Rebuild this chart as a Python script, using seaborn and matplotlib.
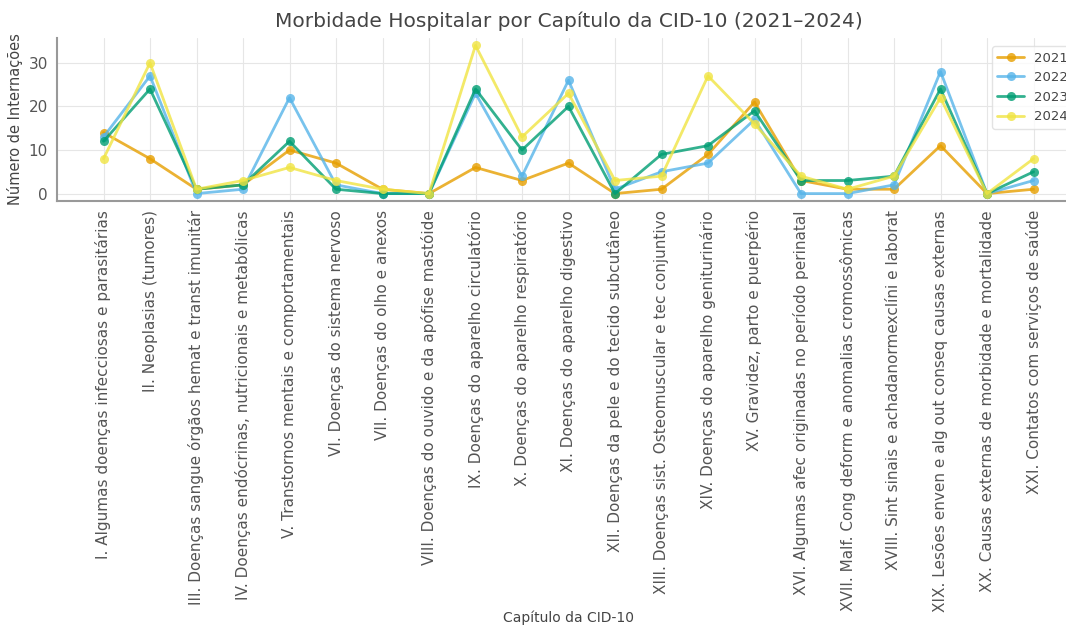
import pandas as pd
import matplotlib
matplotlib.use("Agg")
import matplotlib.pyplot as plt
import seaborn as sns

# Capítulos da CID-10 (eixo x)
capitulos = [
    "I. Algumas doenças infecciosas e parasitárias",
    "II. Neoplasias (tumores)",
    "III. Doenças sangue órgãos hemat e transt imunitár",
    "IV. Doenças endócrinas, nutricionais e metabólicas",
    "V. Transtornos mentais e comportamentais",
    "VI. Doenças do sistema nervoso",
    "VII. Doenças do olho e anexos",
    "VIII. Doenças do ouvido e da apófise mastóide",
    "IX. Doenças do aparelho circulatório",
    "X. Doenças do aparelho respiratório",
    "XI. Doenças do aparelho digestivo",
    "XII. Doenças da pele e do tecido subcutâneo",
    "XIII. Doenças sist. Osteomuscular e tec conjuntivo",
    "XIV. Doenças do aparelho geniturinário",
    "XV. Gravidez, parto e puerpério",
    "XVI. Algumas afec originadas no período perinatal",
    "XVII. Malf. Cong deform e anomalias cromossômicas",
    "XVIII. Sint sinais e achadanormexclíni e laborat",
    "XIX. Lesões enven e alg out conseq causas externas",
    "XX. Causas externas de morbidade e mortalidade",
    "XXI. Contatos com serviços de saúde",
]

# Internações por ano
v2021 = [14, 8, 1, 2, 10, 7, 1, 0, 6, 3, 7, 0, 1, 9, 21, 3, 1, 1, 11, 0, 1]
v2022 = [13, 27, 0, 1, 22, 2, 0, 0, 23, 4, 26, 1, 5, 7, 17, 0, 0, 2, 28, 0, 3]
v2023 = [12, 24, 1, 2, 12, 1, 0, 0, 24, 10, 20, 0, 9, 11, 19, 3, 3, 4, 24, 0, 5]
v2024 = [8, 30, 1, 3, 6, 3, 1, 0, 34, 13, 23, 3, 4, 27, 16, 4, 1, 4, 22, 0, 8]

anos = ["2021", "2022", "2023", "2024"]
cores = ["#E69F00", "#56B4E9", "#009E73", "#F0E442"]

df = pd.DataFrame({"Capítulo": capitulos, "2021": v2021, "2022": v2022,
                   "2023": v2023, "2024": v2024})
df_long = df.melt(id_vars="Capítulo", var_name="Ano", value_name="Internações")

sns.set_theme(style="whitegrid")
plt.rcParams["font.family"] = ["DejaVu Sans"]

fig = plt.figure(figsize=(10.66, 6.26), dpi=100)
# eixo mais largo que a figura: a referência está cortada à direita
ax = fig.add_axes([57 / 1066, 1 - 201 / 626, (1080 - 57) / 1066, 163 / 626])

sns.lineplot(data=df_long, x="Capítulo", y="Internações", hue="Ano",
             hue_order=anos, palette=cores, marker="o", markersize=6.5,
             markeredgewidth=0, linewidth=2, alpha=0.8, sort=False, ax=ax)

ax.set_title("Morbidade Hospitalar por Capítulo da CID-10 (2021–2024)",
             fontsize=14.5, color="#444444", pad=8)
ax.set_xlabel("Capítulo da CID-10", fontsize=10, color="#444444")
ax.xaxis.set_label_coords(0.5, -2.51)
ax.set_ylabel("Número de Internações", fontsize=10.5, color="#444444")
ax.set_yticks([0, 10, 20, 30])
ax.tick_params(axis="x", labelrotation=90, labelsize=11, colors="#555555",
               length=3, color="#888888")
ax.tick_params(axis="y", labelsize=11, colors="#555555", length=3, color="#888888")
ax.grid(color="#e6e6e6", linewidth=0.8)

for s in ["top", "right"]:
    ax.spines[s].set_visible(False)
for s in ["left", "bottom"]:
    ax.spines[s].set_color("#999999")
    ax.spines[s].set_linewidth(1.5)

leg = ax.legend(loc="upper right", bbox_to_anchor=(1.0, 0.99), fontsize=9.5,
                frameon=True, framealpha=0.8, edgecolor="#dddddd")
for t in leg.get_texts():
    t.set_color("#444444")

fig.savefig("out.png", dpi=100)
